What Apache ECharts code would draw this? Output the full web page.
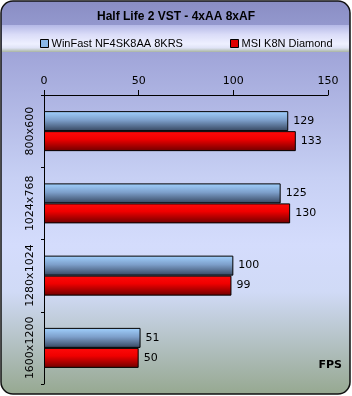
<!DOCTYPE html>
<html>
<head>
<meta charset="utf-8">
<script src="https://cdn.jsdelivr.net/npm/echarts@6/dist/echarts.min.js"></script>
<style>
    html, body {margin: 0; padding: 0; background: #fff;}
    #chart {width: 352px; height: 396px;}
</style>
</head>
<body>
<div id="chart"></div>
<script>
// Half Life 2 VST - 4xAA 8xAF, FPS per resolution
const resolutions = ['800x600', '1024x768', '1280x1024', '1600x1200'];
const winfastFps = [129, 125, 100, 51];
const msiFps = [133, 130, 99, 50];
const seriesNames = ['WinFast NF4SK8AA 8KRS', 'MSI K8N Diamond'];
const fpsTicks = [0, 50, 100, 150];

const chart = echarts.init(document.getElementById('chart'));

const blueFill = new echarts.graphic.LinearGradient(0, 0, 0, 1, [
    {offset: 0, color: '#a2d2ff'},
    {offset: 0.45, color: '#7d9fca'},
    {offset: 1, color: '#36465f'}
]);
const redFill = new echarts.graphic.LinearGradient(0, 0, 0, 1, [
    {offset: 0, color: '#ff0a0a'},
    {offset: 0.4, color: '#f00000'},
    {offset: 1, color: '#6e0000'}
]);

const numFont = 'DejaVu Sans';

const option = {
    animation: false,
    graphic: [
        {
            type: 'rect', z: -10, silent: true,
            shape: {x: 1, y: 1, width: 349, height: 393, r: 12},
            style: {
                fill: new echarts.graphic.LinearGradient(0, 0, 0, 1, [
                    {offset: 0, color: '#898dc4'},
                    {offset: 0.15, color: '#a2a7da'},
                    {offset: 0.45, color: '#c7d0f4'},
                    {offset: 0.62, color: '#d4dcfc'},
                    {offset: 0.74, color: '#d0daf6'},
                    {offset: 1, color: '#96a890'}
                ]),
                stroke: '#111', lineWidth: 1.5
            }
        },
        {
            type: 'rect', z: -9, silent: true,
            shape: {x: 2, y: 25, width: 347, height: 27},
            style: {
                fill: new echarts.graphic.LinearGradient(0, 0, 0, 1, [
                    {offset: 0, color: '#b4b8e6'},
                    {offset: 0.35, color: '#dadcf8'},
                    {offset: 0.7, color: '#eef0ff'},
                    {offset: 0.85, color: '#dfe3f6'},
                    {offset: 1, color: '#a9b5a2'}
                ])
            }
        },
        {
            type: 'text', right: 10, top: 360,
            style: {text: 'FPS', font: 'bold 11px "DejaVu Sans"', fill: '#000'}
        }
    ],
    title: {
        text: 'Half Life 2 VST - 4xAA 8xAF',
        left: 'center', top: 6,
        textStyle: {fontFamily: 'Liberation Sans', fontWeight: 'bold', fontSize: 12, color: '#000'}
    },
    legend: [
        {
            left: 35, top: 33, itemWidth: 8, itemHeight: 8,
            textStyle: {fontFamily: 'Liberation Sans', fontSize: 11, color: '#000', padding: [0, 0, 0, -2]},
            data: [{name: seriesNames[0], icon: 'rect',
                itemStyle: {color: '#8ab8e8', borderColor: '#000', borderWidth: 1}}]
        },
        {
            left: 225, top: 33, itemWidth: 8, itemHeight: 8,
            textStyle: {fontFamily: 'Liberation Sans', fontSize: 11, color: '#000', padding: [0, 0, 0, -2]},
            data: [{name: seriesNames[1], icon: 'rect',
                itemStyle: {color: '#e00000', borderColor: '#000', borderWidth: 1}}]
        }
    ],
    grid: {left: 44, right: 24, top: 95, bottom: 12},
    xAxis: {
        type: 'value', position: 'top',
        min: fpsTicks[0], max: fpsTicks[fpsTicks.length - 1], interval: 50,
        axisLine: {show: true, lineStyle: {color: '#000', width: 1}},
        axisTick: {show: true, length: 5, lineStyle: {color: '#000'}},
        splitLine: {show: false},
        axisLabel: {fontFamily: numFont, fontSize: 11, color: '#000', margin: 8}
    },
    yAxis: {
        type: 'category', inverse: true, data: resolutions,
        axisLine: {show: true, lineStyle: {color: '#000', width: 1}},
        axisTick: {show: true, length: 3, lineStyle: {color: '#000'}},
        axisLabel: {interval: 0, hideOverlap: false, rotate: 90, fontFamily: numFont, fontSize: 11, color: '#000', margin: 8}
    },
    series: [
        {
            name: seriesNames[0], type: 'bar', data: winfastFps,
            barWidth: 20, barGap: '0%',
            itemStyle: {color: blueFill, borderColor: '#000', borderWidth: 1},
            label: {show: true, position: 'right', distance: 5, fontFamily: numFont, fontSize: 11, color: '#000'}
        },
        {
            name: seriesNames[1], type: 'bar', data: msiFps,
            barWidth: 20, barGap: '0%',
            itemStyle: {color: redFill, borderColor: '#000', borderWidth: 1},
            label: {show: true, position: 'right', distance: 5, fontFamily: numFont, fontSize: 11, color: '#000'}
        }
    ]
};

chart.setOption(option);
</script>
</body>
</html>
